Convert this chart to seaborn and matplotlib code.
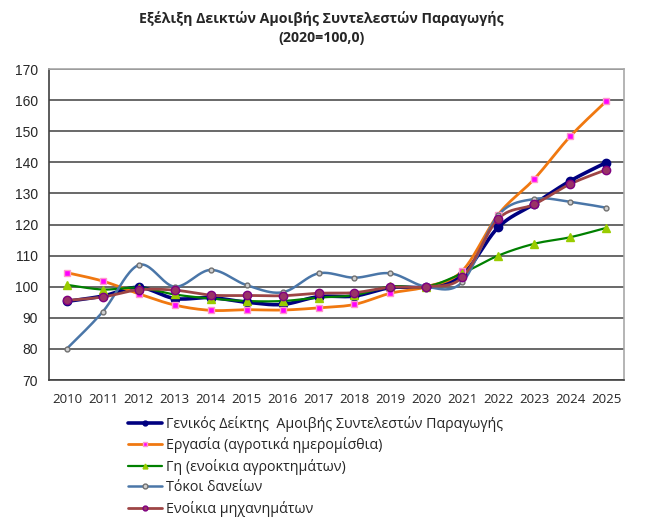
import numpy as np
import matplotlib
matplotlib.use("Agg")
import matplotlib.pyplot as plt
from matplotlib.lines import Line2D
import seaborn as sns

years = [str(y) for y in range(2010, 2026)]

# index values, 2020 = 100
geniko = [95.3, 97.0, 99.8, 96.2, 96.5, 95.0, 94.3, 96.8, 97.0, 99.7, 100.0, 103.8, 119.1, 126.6, 134.0, 139.9]
ergasia = [104.5, 101.8, 97.7, 94.1, 92.4, 92.6, 92.5, 93.2, 94.3, 97.9, 100.0, 105.1, 123.2, 134.6, 148.3, 159.6]
gi = [100.6, 99.1, 99.7, 97.5, 96.2, 95.4, 95.4, 96.5, 97.3, 100.1, 100.0, 104.3, 110.0, 113.8, 115.9, 118.9]
tokoi = [80.1, 92.0, 107.0, 100.0, 105.4, 100.5, 98.2, 104.3, 102.9, 104.3, 100.0, 101.5, 123.0, 128.2, 127.3, 125.4]
enoikia = [95.6, 96.7, 99.0, 98.9, 97.3, 97.2, 97.1, 97.9, 98.1, 99.8, 100.0, 103.0, 121.8, 126.5, 133.0, 137.6]

labels = [
    "Γενικός Δείκτης  Αμοιβής Συντελεστών Παραγωγής",
    "Εργασία (αγροτικά ημερομίσθια)",
    "Γη (ενοίκια αγροκτημάτων)",
    "Τόκοι δανείων",
    "Ενοίκια μηχανημάτων",
]

styles = [
    dict(color="#000080", lw=2.6, marker="o", ms=6, mfc="#000080", mec="#000080"),
    dict(color="#F07810", lw=2.0, marker="s", ms=5, mfc="#FF00FF", mec="#FF99CC"),
    dict(color="#008000", lw=1.6, marker="^", ms=6, mfc="#99CC00", mec="#99CC00"),
    dict(color="#4A76A8", lw=1.8, marker="o", ms=3.5, mfc="#D0D0D0", mec="#707070"),
    dict(color="#9E4545", lw=2.0, marker="o", ms=6, mfc="#993366", mec="#800080"),
]


def smooth(xs, ys, n=24):
    # excel-like bezier smoothing through the data points
    p = np.column_stack([xs, ys]).astype(float)
    out = []
    for i in range(len(p) - 1):
        p0 = p[i - 1] if i > 0 else p[i]
        p1, p2 = p[i], p[i + 1]
        p3 = p[i + 2] if i + 2 < len(p) else p[i + 1]
        c1 = p1 + (p2 - p0) / 6
        c2 = p2 - (p3 - p1) / 6
        t = np.linspace(0, 1, n)[:, None]
        seg = (1 - t) ** 3 * p1 + 3 * (1 - t) ** 2 * t * c1 + 3 * (1 - t) * t ** 2 * c2 + t ** 3 * p2
        out.append(seg if i == 0 else seg[1:])
    out = np.vstack(out)
    return out[:, 0], out[:, 1]


sns.set_style("white")
plt.rcParams['font.family'] = ['Open Sans', 'DejaVu Sans']

fig = plt.figure(figsize=(6.47, 5.3), dpi=100)
ax = fig.add_axes([0.0757, 0.283, 0.8888, 0.5868])

x = np.arange(len(years))
series = [geniko, ergasia, gi, tokoi, enoikia]
order = [3, 2, 1, 4, 0]
for k in order:
    st = styles[k]
    sx, sy = smooth(x, series[k])
    sns.lineplot(x=sx, y=sy, ax=ax, sort=False, color=st["color"], lw=st["lw"], zorder=3 + k * 0.1)
    ax.plot(x, series[k], ls="none", marker=st["marker"], ms=st["ms"],
            mfc=st["mfc"], mec=st["mec"], mew=1, zorder=4 + k * 0.1)

ax.set_xlim(-0.5, len(years) - 0.5)
ax.set_ylim(70, 170)
ax.set_yticks(range(70, 171, 10))
ax.set_xticks(x)
ax.set_xticklabels(years, fontsize=9.5)
ax.set_xticks(np.arange(-0.5, len(years), 1), minor=True)
ax.tick_params(axis="x", which="major", length=0, pad=9)
ax.tick_params(axis="x", which="minor", length=4, direction="out", color="#333333")
ax.tick_params(axis="y", length=8, direction="inout", color="#333333", pad=4)
for lab in ax.get_yticklabels():
    lab.set_family(["Liberation Sans", "DejaVu Sans"])
    lab.set_fontsize(10)

ax.yaxis.grid(True, color="#404040", lw=1.1)
ax.set_axisbelow(True)
for s in ["top", "right"]:
    ax.spines[s].set_color("#A8A8A8")
    ax.spines[s].set_linewidth(1.2)
for s in ["left", "bottom"]:
    ax.spines[s].set_color("#404040")
    ax.spines[s].set_linewidth(1.2)

fig.text(0.497, 0.965, "Εξέλιξη Δεικτών Αμοιβής Συντελεστών Παραγωγής",
         ha="center", va="center", fontsize=10.2, fontweight="bold")
fig.text(0.497, 0.929, "(2020=100,0)", ha="center", va="center", fontsize=10.2, fontweight="bold")

handles = [Line2D([], [], color=st["color"], lw=st["lw"], marker=st["marker"], ms=3.5,
                  mfc=st["mfc"], mec=st["mec"]) for st in styles]
fig.legend(handles, labels, loc="upper left", bbox_to_anchor=(0.198, 0.215),
           frameon=False, fontsize=10.3, handlelength=2.4, handletextpad=0.25,
           labelspacing=0.38, borderaxespad=0, borderpad=0)

fig.savefig("out.png", dpi=100)
